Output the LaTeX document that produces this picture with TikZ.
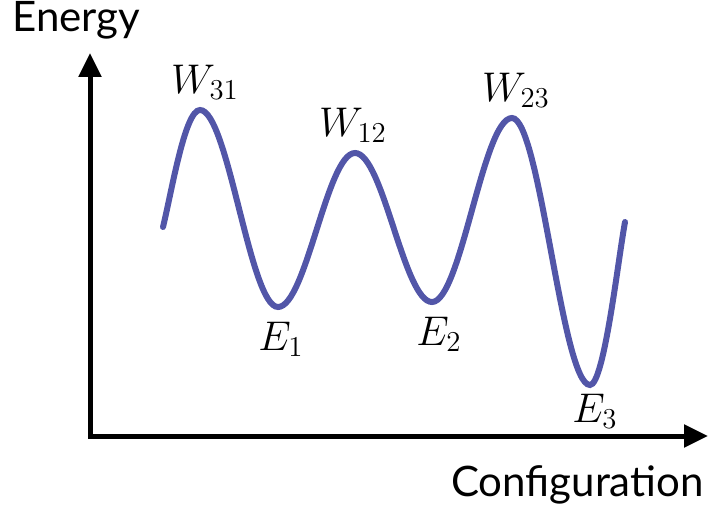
\documentclass[tikz,border=0pt]{standalone}
\usepackage{fontspec}
\setsansfont{Lato}
\usetikzlibrary{arrows.meta}
\definecolor{curveblue}{RGB}{82,86,168}

\begin{document}
\begin{tikzpicture}[x=0.5pt,y=-0.5pt,
  axis/.style={line width=2.5pt,line join=miter,{Triangle[length=12pt,width=11pt]}-{Triangle[length=12pt,width=11pt]}},
  landscape/.style={curveblue,line width=3pt,line cap=round},
  lbl/.style={inner sep=0pt,font=\fontsize{20.74}{24}\selectfont},
  axlbl/.style={inner sep=0pt,font=\sffamily\fontsize{21}{24}\selectfont}]
\useasboundingbox (0,0) rectangle (710,513);

% axes
\coordinate (O) at (90,436);
\coordinate (top) at (90,53);
\coordinate (right) at (708,436);
\draw[axis] (top) -- (O) -- (right);
\node[axlbl,anchor=base west] (energy) at (12,32) {Energy};
\node[axlbl,anchor=base east] (config) at (704,496) {Configuration};

% wells and barriers
\coordinate (s) at (163,227);
\coordinate (w31) at (200,110);
\coordinate (e1) at (278,307);
\coordinate (w12) at (355,153);
\coordinate (e2) at (432,302);
\coordinate (w23) at (512,118);
\coordinate (e3) at (590,385);
\coordinate (t) at (625,222);

\draw[landscape] (s) .. controls (172,190) and (185,110) .. (w31)
  .. controls (228,110) and (250,307) .. (e1)
  .. controls (306,307) and (327,153) .. (w12)
  .. controls (383,153) and (404,302) .. (e2)
  .. controls (461,302) and (483,118) .. (w23)
  .. controls (540,118) and (562,385) .. (e3)
  .. controls (604,385) and (618,260) .. (t);

% labels
\node[lbl] (lw31) at (205,82) {$W_{31}$};
\node[lbl] (lw12) at (353,125) {$W_{12}$};
\node[lbl] (lw23) at (516,90) {$W_{23}$};
\node[lbl] (le1) at (281,339) {$E_1$};
\node[lbl] (le2) at (439,334) {$E_2$};
\node[lbl] (le3) at (595,411) {$E_3$};

\end{tikzpicture}
\end{document}
